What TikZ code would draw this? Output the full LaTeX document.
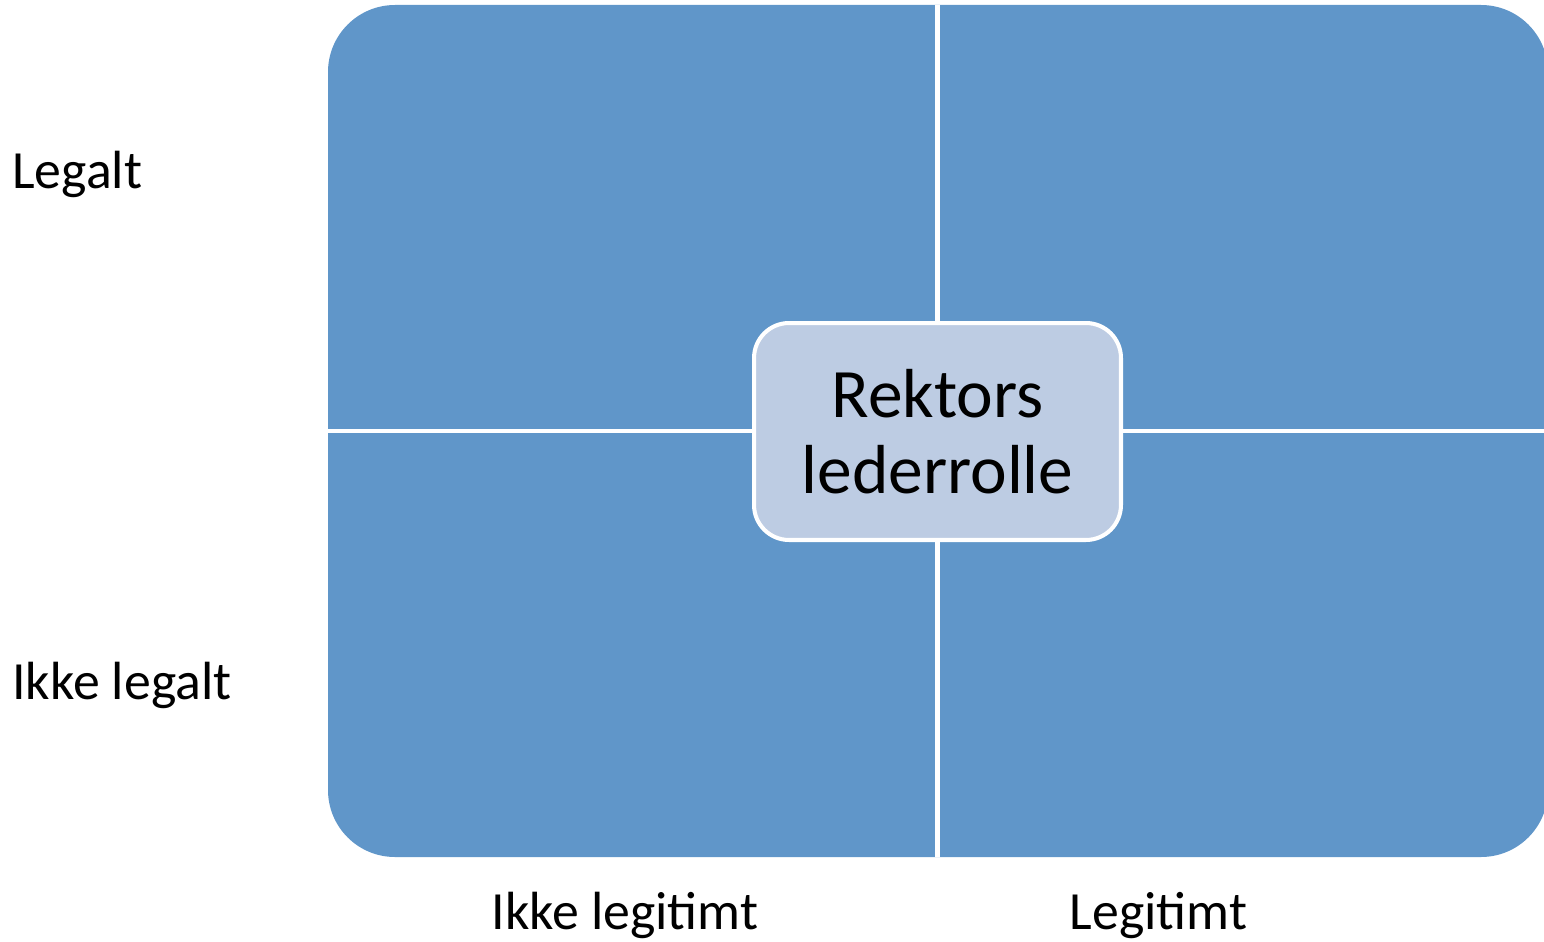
\documentclass[tikz,border=0pt]{standalone}
\usepackage{fontspec}
\setmainfont{Carlito}
\usetikzlibrary{shapes}
\definecolor{quadblue}{HTML}{6096C9}
\definecolor{rolefill}{HTML}{BDCCE3}

\begin{document}
\begin{tikzpicture}[x = 0.02cm, y = -0.02cm,
    axislabel/.style = {inner sep=0pt, font=\fontsize{30.6}{36}\selectfont},
    divider/.style = {white, line width=2.8pt}]
     \useasboundingbox (0,0) rectangle (1544,942);
     \clip (0,0) rectangle (1544,942);
     % four fields as one rounded block
     \fill[quadblue, rounded corners=1.34cm] (328,5) rectangle (1548,857);
     \coordinate (top) at (937.5,5);
     \coordinate (bottom) at (937.5,857);
     \coordinate (left) at (328,431);
     \coordinate (right) at (1548,431);
     \node[draw=white, line width=2.3pt, fill=rolefill, rounded corners=0.7cm,
           minimum width=7.34cm, minimum height=4.34cm, align=center,
           font=\fontsize{39.5}{43.5}\selectfont] (rolle) at (937.5,431.5) {Rektors\\lederrolle};
     \draw[divider] (top) -- (rolle.north);
     \draw[divider] (rolle.south) -- (bottom);
     \draw[divider] (left) -- (rolle.west |- left);
     \draw[divider] (rolle.east |- right) -- (right);

     \node[axislabel, anchor=base west] (legalt) at (12,189) {Legalt};
     \node[axislabel, anchor=base west] (ikkelegalt) at (12,699) {Ikke legalt};
     \node[axislabel, anchor=base] (ikkelegitimt) at (625,929) {Ikke legitimt};
     \node[axislabel, anchor=base] (legitimt) at (1158.5,929) {Legitimt};
\end{tikzpicture}
\end{document}
